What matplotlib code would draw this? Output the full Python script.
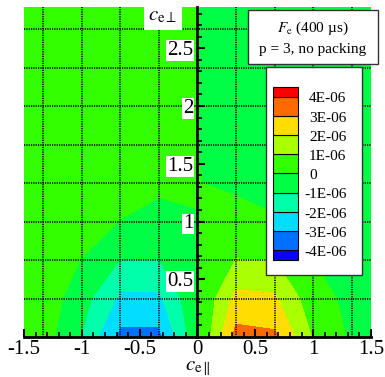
import matplotlib
matplotlib.use("Agg")
import matplotlib.pyplot as plt
import numpy as np
from matplotlib.patches import Rectangle

plt.rcParams['font.family'] = ['Liberation Serif', 'DejaVu Serif']
plt.rcParams['mathtext.fontset'] = 'stix'

# velocity mesh (c_e||, c_e perp) and F_e values in units of 1e-6
c_par = [-1.5, -4/3, -1, -2/3, -1/3, 0, 1/3, 2/3, 1, 4/3, 1.5]
c_perp = [0, 1/3, 2/3, 1, 4/3, 5/3, 2, 7/3, 8/3, 3]
row_0 = [0.5, 0.46, -1.05, -3.3, -3.3, -0.2, 3.35, 3.2, 0.9, -0.15, -0.3]
row_1 = [0.6, 0.58, -0.6, -2.2, -2.2, -0.1, 2.3, 2.15, 0.38, -0.25, -0.3]
row_2 = [0.5, 0.4, -0.02, -1.02, -1.02, -0.05, 1.02, 1.0, -0.01, -0.3, -0.3]
row_3 = [0.4, 0.4, 0.3, -0.02, -0.5, -0.01, 0.3, 0.05, -0.2, -0.3, -0.3]
row_4 = [0.3, 0.3, 0.3, 0.3, 0.3, 0.02, -0.15, -0.2, -0.3, -0.3, -0.3]
row_far = [0.3, 0.3, 0.3, 0.3, 0.3, -0.005, -0.3, -0.3, -0.3, -0.3, -0.3]
rows = [row_0, row_1, row_2, row_3, row_4, row_far, row_far, row_far, row_far, row_far]

levels = [-4e-6, -3e-6, -2e-6, -1e-6, 0, 1e-6, 2e-6, 3e-6, 4e-6]
level_labels = ['-4E-06', '-3E-06', '-2E-06', '-1E-06', '0', '1E-06', '2E-06', '3E-06', '4E-06']
band_colors = ['#0A00FF', '#0070FF', '#00DDFF', '#00FFAA', '#00FF44',
               '#33FF00', '#AAFF00', '#FFDD00', '#FF6A00', '#FF0000']

xtick_vals = [-1.5, -1, -0.5, 0, 0.5, 1, 1.5]
xtick_labels = ['-1.5', '-1', '-0.5', '0', '0.5', '1', '1.5']
ytick_vals = [0.5, 1, 1.5, 2, 2.5]
ytick_labels = ['0.5', '1', '1.5', '2', '2.5']
grid_vals = [-4/3, -1, -2/3, -1/3, 1/3, 2/3, 1, 4/3]
grid_yvals = [1/3, 2/3, 1, 4/3, 5/3, 2, 7/3, 8/3]

W, H = 385, 377
def fx(px):
    return px / W
def fy(py):
    return 1 - py / H

fig = plt.figure(figsize=(3.85, 3.77), dpi=100)
ax = fig.add_axes([fx(24), fy(337), (371 - 24) / W, (337 - 7) / H])

X, Y = np.meshgrid(c_par, c_perp)
Z = np.array(rows) * 1e-6
bounds = [-1e-3] + levels + [1e-3]
ax.contourf(X, Y, Z, levels=bounds, colors=band_colors, zorder=0.5)

ax.set_xlim(-1.5, 1.5)
ax.set_ylim(0, 330 / 115.5)

for g in grid_vals:
    ax.axvline(g, color='k', lw=1.2, ls=(0, (0.7, 0.7)), zorder=1.2)
for g in grid_yvals:
    ax.axhline(g, color='k', lw=1.2, ls=(0, (0.7, 0.7)), zorder=1.2)

ax.spines['top'].set_visible(False)
ax.spines['right'].set_visible(False)
ax.spines['left'].set_position(('data', 0))
ax.spines['left'].set_linewidth(2)
ax.spines['bottom'].set_linewidth(2)
ax.set_axisbelow(False)

ax.set_xticks(xtick_vals, labels=xtick_labels)
ax.set_xticks(np.arange(-1.5, 1.51, 0.1), minor=True)
ax.set_yticks(ytick_vals, labels=ytick_labels)
ax.set_yticks(np.arange(0.1, 2.87, 0.1), minor=True)
ax.tick_params(which='major', direction='in', length=6, width=1.5, labelsize=15)
ax.tick_params(which='minor', direction='in', length=3.5, width=1.2)
ax.tick_params(axis='x', pad=2)
ax.tick_params(axis='y', pad=3)
for lbl in ax.get_yticklabels():
    lbl.set_bbox(dict(facecolor='white', edgecolor='none', pad=0.6))

# axis labels
fig.text(fx(163), fy(16), r'$c_{\mathrm{e}\perp}$', fontsize=15, ha='center', va='center',
         bbox=dict(facecolor='white', edgecolor='none', pad=3))
fig.text(fx(198), fy(359), r'$c_{\mathrm{e}\parallel}$', fontsize=15, ha='center', va='top')

# title box
fig.add_artist(Rectangle((fx(248), fy(64)), (378 - 248) / W, (64 - 10) / H,
                         transform=fig.transFigure, facecolor='white', edgecolor='#333333', lw=1))
fig.text(fx(313), fy(28), r'$F_{\mathrm{e}}$ (400 µs)', fontsize=11, ha='center', va='center')
fig.text(fx(313), fy(50), 'p = 3, no packing', fontsize=11, ha='center', va='center')

# contour legend
fig.add_artist(Rectangle((fx(266), fy(275)), (362 - 266) / W, (275 - 67) / H,
                         transform=fig.transFigure, facecolor='white', edgecolor='#333333', lw=1))
step = 19.2
top_b = 96.5
bnd_y = [top_b + step * (len(levels) - 1 - i) for i in range(len(levels))]
for i, col in enumerate(band_colors):
    if i == 0:
        y_top, y_bot = bnd_y[0], bnd_y[0] + step / 2
    elif i == len(band_colors) - 1:
        y_top, y_bot = bnd_y[-1] - step / 2, bnd_y[-1]
    else:
        y_top, y_bot = bnd_y[i], bnd_y[i - 1]
    fig.add_artist(Rectangle((fx(273), fy(y_bot)), (298 - 273) / W, (y_bot - y_top) / H,
                             transform=fig.transFigure, facecolor=col, edgecolor='k', lw=0.8))
for lab, yb in zip(level_labels, bnd_y):
    x0 = 304 if lab.startswith('-') else 309
    fig.text(fx(x0), fy(yb + 2.5), lab, fontsize=11, ha='left', va='center')

fig.savefig('out.png', dpi=100)
